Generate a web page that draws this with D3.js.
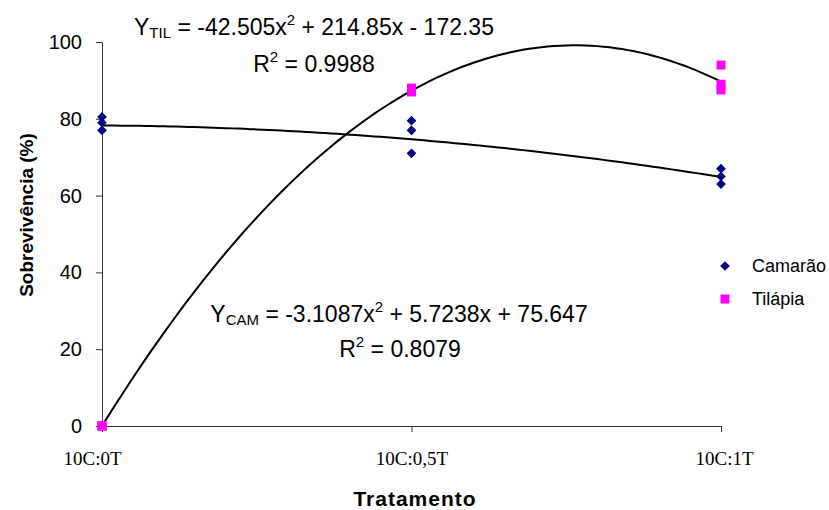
<!DOCTYPE html>
<html>
<head>
<meta charset="utf-8">
<script src="https://cdn.jsdelivr.net/npm/d3@7"></script>
<style>
  body { margin: 0; background: #fff; }
  text { fill: #000; }
</style>
</head>
<body>
<svg class="chart"></svg>
<script>
// Data
var categories = ["10C:0T", "10C:0,5T", "10C:1T"];
var catX = [1, 2, 3];
var yTicks = [0, 20, 40, 60, 80, 100];

// replicate values per treatment
var camarao = [
    [80.5, 79, 77],
    [79.5, 77, 71],
    [67, 65, 63]
];
var tilapia = [
    [0, 0, 0],
    [88, 87.5, 87],
    [94, 89, 87.5]
];

// trendline coefficients (a, b, c): y = a x^2 + b x + c
var coefCam = [-3.1087, 5.7238, 75.647];
var coefTil = [-42.505, 214.85, -172.35];

var sans = "'Liberation Sans', Arial, sans-serif",
    serif = "'Liberation Serif', 'Times New Roman', serif";

var w = 829,
    h = 510;

var svg = d3.select(".chart")
    .attr("width", w)
    .attr("height", h)
    .style("font-family", sans);

var margin = { top: 42, right: 108, bottom: 84, left: 102 },
    width = w - margin.left - margin.right,
    height = h - margin.top - margin.bottom,
    g = svg.append("g").attr("transform", "translate(" + margin.left + "," + margin.top + ")");

var xScale = d3.scaleLinear().domain([1, 3]).range([0, width]);
var yScale = d3.scaleLinear().domain([0, 100]).range([height, 0]);

// Axes
var yAxis = d3.axisLeft(yScale).tickValues(yTicks).tickSize(6).tickSizeOuter(0).tickPadding(14);
var xAxis = d3.axisBottom(xScale).tickValues(catX).tickSize(6).tickSizeOuter(0).tickPadding(20)
    .tickFormat(function(d, i) { return categories[i]; });

var gy = g.append("g").attr("class", "y axis").call(yAxis);
gy.selectAll("text").style("font-size", "20px").style("font-family", sans);
gy.select(".domain").attr("stroke", "#333");
gy.selectAll(".tick line").attr("stroke", "#333");

var gx = g.append("g").attr("class", "x axis")
    .attr("transform", "translate(0," + height + ")")
    .call(xAxis);
gx.selectAll("text")
    .style("font-size", "19px")
    .style("font-family", serif)
    .attr("dx", function(d, i) { return i === 0 ? -10 : (i === 2 ? 3 : 0); });
gx.select(".domain").attr("stroke", "#333");
gx.selectAll(".tick line").attr("stroke", "#333");

// Trendlines
var quad = function(c) {
    return function(x) { return c[0] * x * x + c[1] * x + c[2]; };
};
var xs = d3.range(1, 3.0001, 0.02);
var line = d3.line()
    .x(function(d) { return xScale(d[0]); })
    .y(function(d) { return yScale(d[1]); });

[coefCam, coefTil].forEach(function(c) {
    var f = quad(c);
    g.append("path")
        .datum(xs.map(function(x) { return [x, Math.max(0, f(x))]; }))
        .attr("fill", "none")
        .attr("stroke", "#000")
        .attr("stroke-width", 2)
        .attr("d", line);
});

// Points
var flat = function(arr) {
    var out = [];
    arr.forEach(function(vals, i) {
        vals.forEach(function(v) { out.push([catX[i], v]); });
    });
    return out;
};

g.selectAll(".til")
    .data(flat(tilapia))
    .enter().append("rect")
    .attr("class", "til")
    .attr("x", function(d) { return xScale(d[0]) - 4.5; })
    .attr("y", function(d) { return yScale(d[1]) - 4.5; })
    .attr("width", 9)
    .attr("height", 9)
    .attr("fill", "#ff00ff");

var diamond = d3.symbol().type(d3.symbolDiamond2).size(60);
g.selectAll(".cam")
    .data(flat(camarao))
    .enter().append("path")
    .attr("class", "cam")
    .attr("transform", function(d) { return "translate(" + xScale(d[0]) + "," + yScale(d[1]) + ")"; })
    .attr("d", diamond)
    .attr("fill", "#000080");

// Legend
var legend = svg.append("g").attr("transform", "translate(725,266)");
legend.append("path").attr("d", diamond).attr("fill", "#000080");
legend.append("text").attr("x", 27).attr("y", 6).attr("font-size", "18px").text("Camarão");
legend.append("rect").attr("x", -4.5).attr("y", 28.5).attr("width", 9).attr("height", 9).attr("fill", "#ff00ff");
legend.append("text").attr("x", 27).attr("y", 39).attr("font-size", "18px").text("Tilápia");

// Equations
var eq = function(x, y, sub, terms) {
    var t = svg.append("text").attr("x", x).attr("y", y).attr("font-size", "23px").attr("text-anchor", "middle");
    t.append("tspan").text("Y");
    t.append("tspan").attr("font-size", "15px").attr("dy", 3).text(sub);
    t.append("tspan").attr("dy", -3).text(" = " + terms[0] + "x");
    t.append("tspan").attr("font-size", "15px").attr("dy", -10).text("2");
    t.append("tspan").attr("dy", 10).text(" " + terms[1]);
    return t;
};
var r2 = function(x, y, val) {
    var t = svg.append("text").attr("x", x).attr("y", y).attr("font-size", "23px").attr("text-anchor", "middle");
    t.append("tspan").text("R");
    t.append("tspan").attr("font-size", "15px").attr("dy", -10).text("2");
    t.append("tspan").attr("dy", 10).text(" = " + val);
};

eq(314, 35, "TIL", ["-42.505", "+ 214.85x - 172.35"]);
r2(314, 72, "0.9988");
eq(399, 322, "CAM", ["-3.1087", "+ 5.7238x + 75.647"]);
r2(400, 357, "0.8079");

// Axis titles
svg.append("text")
    .attr("x", 415)
    .attr("y", 506)
    .attr("text-anchor", "middle")
    .attr("font-size", "21px")
    .attr("font-weight", "bold")
    .attr("letter-spacing", "1px")
    .text("Tratamento");

svg.append("text")
    .attr("transform", "translate(33,215) rotate(-90)")
    .attr("text-anchor", "middle")
    .attr("font-size", "19px")
    .attr("font-weight", "bold")
    .text("Sobrevivência (%)");
</script>
</body>
</html>
